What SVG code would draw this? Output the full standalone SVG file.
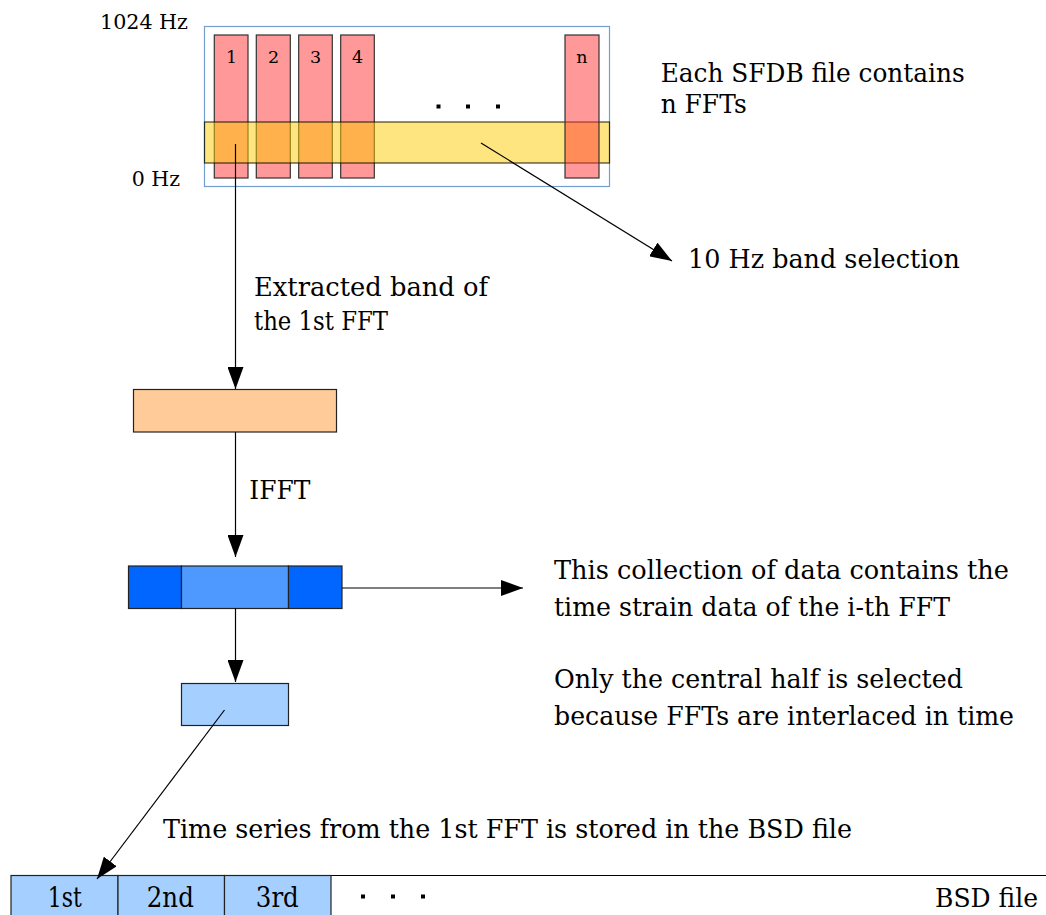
<svg xmlns="http://www.w3.org/2000/svg" width="1046" height="915" viewBox="0 0 1046 915">
  <defs>
    <style>
      text { font-family: "DejaVu Serif", "Liberation Serif", serif; fill: #000; }
      .lbl { font-size: 26px; }
      .num { font-size: 17.5px; text-anchor: middle; }
      .hz { font-size: 20.5px; }
      .cell { font-size: 27px; text-anchor: middle; }
      .dot { fill: #000; }
      .fft { fill: #ff9999; stroke: #333; stroke-width: 1.2; }
      .edge { fill: none; stroke: #000; stroke-width: 1.2; }
      .box { stroke: #222; stroke-width: 1.2; }
    </style>
    <marker id="head" viewBox="0 0 22 16" refX="22" refY="8" markerWidth="22" markerHeight="16" markerUnits="userSpaceOnUse" orient="auto">
      <path d="M0,0 L22,8 L0,16 Z" fill="#000"/>
    </marker>
  </defs>
  <rect width="1046" height="915" fill="#fff"/>

  <!-- SFDB file: frequency frame with n FFTs -->
  <g id="sfdb">
    <rect x="204.5" y="26.5" width="405" height="160" fill="#fff" stroke="#729fcf" stroke-width="1.2"/>
    <rect class="fft" x="214.3" y="35" width="33.7" height="143"/>
    <rect class="fft" x="256.3" y="35" width="34" height="143"/>
    <rect class="fft" x="298.7" y="35" width="33.6" height="143"/>
    <rect class="fft" x="340.7" y="35" width="33.6" height="143"/>
    <!-- 10 Hz band -->
    <rect x="204.5" y="122" width="405" height="41" fill="#ffcc00" fill-opacity="0.5" stroke="#000" stroke-opacity="0.75" stroke-width="1.2"/>
    <rect x="565" y="35" width="34" height="143" fill="#ff3333" fill-opacity="0.5" stroke="#333" stroke-width="1.2"/>
    <text class="num" x="231.5" y="62.5">1</text>
    <text class="num" x="273.5" y="62.5">2</text>
    <text class="num" x="315.5" y="62.5">3</text>
    <text class="num" x="357.5" y="62.5">4</text>
    <text class="num" x="582" y="62.5">n</text>
    <rect class="dot" x="436.5" y="104.5" width="4" height="4"/>
    <rect class="dot" x="466" y="104.5" width="4" height="4"/>
    <rect class="dot" x="496" y="104.5" width="4" height="4"/>
    <text class="hz" x="100" y="29.3" textLength="88" lengthAdjust="spacingAndGlyphs">1024 Hz</text>
    <text class="hz" x="131.7" y="186" textLength="48.3" lengthAdjust="spacingAndGlyphs">0 Hz</text>
  </g>

  <g id="sfdb-note">
    <text class="lbl" x="660.7" y="81.7" textLength="304" lengthAdjust="spacingAndGlyphs">Each SFDB file contains</text>
    <text class="lbl" x="660.7" y="112.8" textLength="86" lengthAdjust="spacingAndGlyphs">n FFTs</text>
  </g>

  <g id="band-note">
    <text class="lbl" x="688" y="268" textLength="272" lengthAdjust="spacingAndGlyphs">10 Hz band selection</text>
  </g>

  <g id="extracted-note">
    <text class="lbl" x="254" y="296" textLength="234" lengthAdjust="spacingAndGlyphs">Extracted band of</text>
    <text class="lbl" x="254" y="330" textLength="134" lengthAdjust="spacingAndGlyphs">the 1st FFT</text>
  </g>

  <!-- extracted band -->
  <g id="band">
    <rect class="box" x="133.5" y="389.5" width="203" height="42.5" fill="#ffcc99"/>
  </g>

  <g id="ifft-note">
    <text class="lbl" x="249.3" y="499" textLength="61" lengthAdjust="spacingAndGlyphs">IFFT</text>
  </g>

  <!-- time series of one FFT -->
  <g id="timeseries">
    <rect class="box" x="128.5" y="566" width="53" height="42.5" fill="#0066ff"/>
    <rect class="box" x="181.5" y="566" width="107" height="42.5" fill="#4d99ff"/>
    <rect class="box" x="288.5" y="566" width="53.5" height="42.5" fill="#0066ff"/>
  </g>

  <g id="timeseries-note">
    <text class="lbl" x="554" y="579.3" textLength="455" lengthAdjust="spacingAndGlyphs">This collection of data contains the</text>
    <text class="lbl" x="554" y="616" textLength="396" lengthAdjust="spacingAndGlyphs">time strain data of the i-th FFT</text>
    <text class="lbl" x="554" y="688.3" textLength="409" lengthAdjust="spacingAndGlyphs">Only the central half is selected</text>
    <text class="lbl" x="554" y="725" textLength="460" lengthAdjust="spacingAndGlyphs">because FFTs are interlaced in time</text>
  </g>

  <!-- central half -->
  <g id="central">
    <rect class="box" x="181.5" y="683.5" width="107" height="42" fill="#a5cfff"/>
  </g>

  <g id="stored-note">
    <text class="lbl" x="163" y="838" textLength="689" lengthAdjust="spacingAndGlyphs">Time series from the 1st FFT is stored in the BSD file</text>
  </g>

  <!-- BSD file -->
  <g id="bsd">
    <line x1="11" y1="875.5" x2="1046" y2="875.5" stroke="#000" stroke-width="1.2"/>
    <rect class="box" x="11" y="875.5" width="107" height="60" fill="#a5cfff"/>
    <rect class="box" x="118" y="875.5" width="106.5" height="60" fill="#a5cfff"/>
    <rect class="box" x="224.5" y="875.5" width="106.5" height="60" fill="#a5cfff"/>
    <text class="cell" x="64.7" y="907" textLength="34" lengthAdjust="spacingAndGlyphs">1st</text>
    <text class="cell" x="170.3" y="907" textLength="47" lengthAdjust="spacingAndGlyphs">2nd</text>
    <text class="cell" x="277.3" y="907" textLength="43" lengthAdjust="spacingAndGlyphs">3rd</text>
    <rect class="dot" x="361" y="894.5" width="4" height="4"/>
    <rect class="dot" x="391" y="894.5" width="4" height="4"/>
    <rect class="dot" x="421" y="894.5" width="4" height="4"/>
    <text x="935" y="907" font-size="26" textLength="103" lengthAdjust="spacingAndGlyphs">BSD file</text>
  </g>

  <!-- connectors -->
  <g id="connectors">
    <line class="edge" x1="235.5" y1="144" x2="235.5" y2="389" marker-end="url(#head)"/>
    <line class="edge" x1="235.5" y1="432" x2="235.5" y2="557" marker-end="url(#head)"/>
    <line class="edge" x1="235.5" y1="608.5" x2="235.5" y2="682" marker-end="url(#head)"/>
    <line class="edge" x1="342" y1="588" x2="523" y2="588" marker-end="url(#head)"/>
    <line class="edge" x1="481" y1="143" x2="672" y2="261" marker-end="url(#head)"/>
    <line class="edge" x1="224.5" y1="710" x2="97" y2="879" marker-end="url(#head)"/>
  </g>
</svg>
